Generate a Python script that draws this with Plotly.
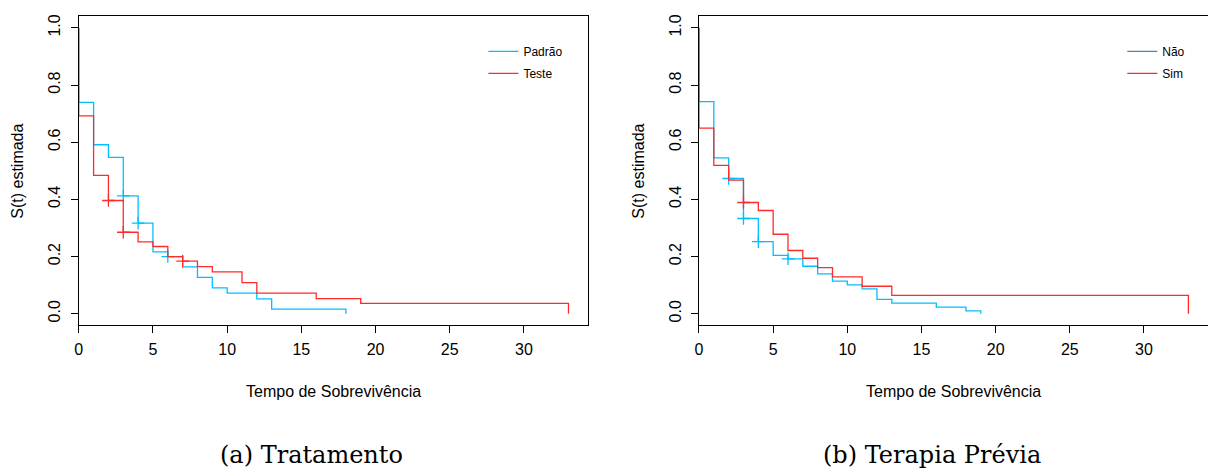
import plotly.graph_objects as go

W, H = 1208, 470

# ---- data ----
# Panel (a) Tratamento
a_padrao_t = [0, 0, 1, 2, 3, 4, 5, 6, 7, 8, 9, 10, 12, 13, 18]
a_padrao_s = [1, 0.739, 0.591, 0.547, 0.412, 0.317, 0.216, 0.200, 0.164, 0.127, 0.090, 0.072, 0.052, 0.016, 0]
a_padrao_cens_t = [3, 4, 6]
a_padrao_cens_s = [0.412, 0.317, 0.200]

a_teste_t = [0, 0, 1, 2, 3, 4, 5, 6, 7, 8, 9, 11, 12, 16, 19, 33]
a_teste_s = [1, 0.692, 0.484, 0.396, 0.285, 0.251, 0.235, 0.200, 0.184, 0.165, 0.146, 0.109, 0.072, 0.053, 0.036, 0]
a_teste_cens_t = [2, 3, 7]
a_teste_cens_s = [0.396, 0.285, 0.184]

# Panel (b) Terapia Prévia
b_nao_t = [0, 0, 1, 2, 3, 4, 5, 6, 7, 8, 9, 10, 11, 12, 13, 16, 18, 19]
b_nao_s = [1, 0.742, 0.545, 0.473, 0.333, 0.252, 0.204, 0.192, 0.166, 0.139, 0.114, 0.101, 0.087, 0.050, 0.037, 0.023, 0.010, 0]
b_nao_cens_t = [2, 3, 4, 6]
b_nao_cens_s = [0.473, 0.333, 0.252, 0.192]

b_sim_t = [0, 0, 1, 2, 3, 4, 5, 6, 7, 8, 9, 11, 13, 33]
b_sim_s = [1, 0.649, 0.519, 0.467, 0.389, 0.361, 0.278, 0.221, 0.194, 0.161, 0.129, 0.096, 0.064, 0]
b_sim_cens_t = [3]
b_sim_cens_s = [0.389]

x_ticks = [0, 5, 10, 15, 20, 25, 30]
y_ticks = [0.0, 0.2, 0.4, 0.6, 0.8, 1.0]
y_ticktext = ["0.0", "0.2", "0.4", "0.6", "0.8", "1.0"]

legend_a = ["Padrão", "Teste"]
legend_b = ["Não", "Sim"]
xlabel = "Tempo de Sobrevivência"
ylabel = "S(t) estimada"
captions = ["(a) Tratamento", "(b) Terapia Prévia"]

BLUE = "#00BFFF"
RED = "#FF2A2A"
LEG_NAO = "#4F7FB5"

def px(x):
    return x / W

def py(y):
    return 1 - y / H

fig = go.Figure()

def add_curve(t, s, ct, cs, color, xa, ya):
    fig.add_trace(go.Scatter(x=t, y=s, mode="lines", line=dict(color=color, width=1.3, shape="hv"),
                             xaxis=xa, yaxis=ya, showlegend=False, hoverinfo="skip"))
    fig.add_trace(go.Scatter(x=ct, y=cs, mode="markers",
                             marker=dict(symbol="cross-thin", size=9, line=dict(color=color, width=1.3)),
                             xaxis=xa, yaxis=ya, showlegend=False, hoverinfo="skip"))

add_curve(a_padrao_t, a_padrao_s, a_padrao_cens_t, a_padrao_cens_s, BLUE, "x", "y")
add_curve(a_teste_t, a_teste_s, a_teste_cens_t, a_teste_cens_s, RED, "x", "y")
add_curve(b_nao_t, b_nao_s, b_nao_cens_t, b_nao_cens_s, BLUE, "x2", "y2")
add_curve(b_sim_t, b_sim_s, b_sim_cens_t, b_sim_cens_s, RED, "x2", "y2")

# legend entries
for name, col, lg in [(legend_a[0], BLUE, "legend"), (legend_a[1], RED, "legend"),
                      (legend_b[0], LEG_NAO, "legend2"), (legend_b[1], RED, "legend2")]:
    fig.add_trace(go.Scatter(x=[None], y=[None], mode="lines", name=name,
                             line=dict(color=col, width=1.3), legend=lg, legendgroup=name,
                             xaxis="x" if lg == "legend" else "x2",
                             yaxis="y" if lg == "legend" else "y2"))

font = "Liberation Sans, Arial, sans-serif"
xax = dict(range=[0, 34.32], tickvals=x_ticks, ticks="outside", ticklen=7, tickwidth=1,
           tickcolor="black", showline=True, linecolor="black", linewidth=1, mirror=True,
           showgrid=False, zeroline=False, tickfont=dict(family=font, size=16, color="black"),
           ticklabelstandoff=3)
yax = dict(range=[-0.04, 1.04], tickvals=y_ticks, ticktext=y_ticktext, ticks="outside", ticklen=7,
           tickwidth=1, tickcolor="black", showline=True, linecolor="black", linewidth=1,
           mirror=True, showgrid=False, zeroline=False, tickangle=-90,
           tickfont=dict(family=font, size=16, color="black"), ticklabelstandoff=4)

ydom = [py(324.5), py(14.5)]
fig.update_layout(
    width=W, height=H, margin=dict(l=0, r=0, t=0, b=0),
    paper_bgcolor="white", plot_bgcolor="white",
    xaxis=dict(xax, domain=[px(75), px(586)], anchor="y"),
    yaxis=dict(yax, domain=ydom, anchor="x"),
    xaxis2=dict(xax, domain=[px(697.3), 1.0], anchor="y2"),
    yaxis2=dict(yax, domain=ydom, anchor="x2", mirror=False),
    legend=dict(x=px(481), y=py(35), xanchor="left", yanchor="top", bgcolor="rgba(0,0,0,0)",
                font=dict(family=font, size=12, color="black"), tracegroupgap=3),
    legend2=dict(x=px(1122), y=py(35), xanchor="left", yanchor="top", bgcolor="rgba(0,0,0,0)",
                 font=dict(family=font, size=12, color="black"), tracegroupgap=3),
    showlegend=True,
)

annots = []
for cx in [330.5, 952.6]:
    annots.append(dict(x=px(cx), y=py(391), xref="paper", yref="paper", text=xlabel, showarrow=False,
                       xanchor="center", yanchor="middle", font=dict(family=font, size=16, color="black")))
for cx in [14, 637]:
    annots.append(dict(x=px(cx), y=py(169.5), xref="paper", yref="paper", text=ylabel, showarrow=False,
                       textangle=-90, xanchor="center", yanchor="middle",
                       font=dict(family=font, size=16, color="black")))
for cx, cap in zip([309, 931], captions):
    annots.append(dict(x=px(cx), y=py(455), xref="paper", yref="paper", text=cap, showarrow=False,
                       xanchor="center", yanchor="middle",
                       font=dict(family="DejaVu Serif, serif", size=24, color="black")))
fig.update_layout(annotations=annots)

# remove the page's default body margin so the figure sits at the window's top-left corner
fig.write_html("out.html", config={"displayModeBar": False},
               post_script="document.body.style.margin='0';document.body.style.overflow='hidden';")
